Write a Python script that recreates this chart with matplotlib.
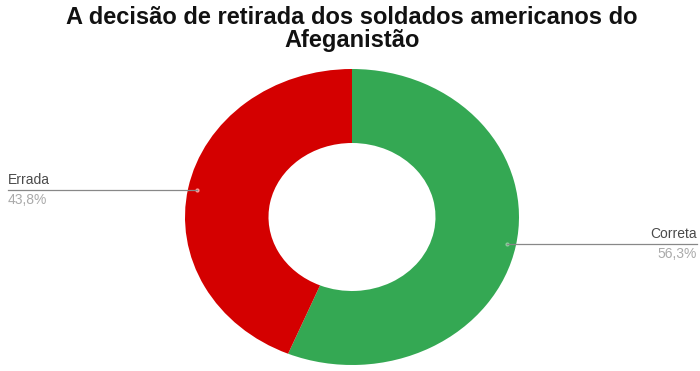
from decimal import Decimal, ROUND_HALF_UP
import numpy as np
import matplotlib
matplotlib.use('Agg')
import matplotlib.pyplot as plt

# data
labels = ['Correta', 'Errada']
values = [9, 7]
colors = ['#34a853', '#d40000']
title_lines = ['A decisão de retirada dos soldados americanos do', 'Afeganistão']

plt.rcParams['font.family'] = ['Liberation Sans', 'DejaVu Sans']

W, H = 700, 371
fig = plt.figure(figsize=(W / 100, H / 100), dpi=100)

# pie centre / radii in pixels (chart is slightly squashed vertically)
cx, cy, rx, ry = 352, 217, 167, 148
ax = fig.add_axes([(cx - rx) / W, (H - cy - ry) / H, 2 * rx / W, 2 * ry / H])
wedges, _ = ax.pie(values, colors=colors, startangle=90, counterclock=False,
                   radius=1, wedgeprops=dict(width=0.5, linewidth=0))
ax.set_xlim(-1, 1)
ax.set_ylim(-1, 1)
ax.set_aspect('auto')
ax.axis('off')

# title, two lines, baselines at y=24 and y=47 px
for line, base in zip(title_lines, [24, 47]):
    fig.text(0.503, (H - base) / H, line, ha='center', va='baseline',
             fontsize=17, fontweight='bold', color='#111111')

total = sum(values)
for w, lab, v in zip(wedges, labels, values):
    p = Decimal(v * 100) / Decimal(total)
    p_txt = str(p.quantize(Decimal('0.1'), rounding=ROUND_HALF_UP)).replace('.', ',') + '%'
    ang = np.deg2rad((w.theta1 + w.theta2) / 2)
    ax_x = 0.947 * np.cos(ang)
    ax_y = 0.947 * np.sin(ang)
    px, py = ax.transData.transform((ax_x, ax_y))
    if ax_x < 0:
        x_end, ha = 8, 'left'
    else:
        x_end, ha = 697, 'right'
    fig.add_artist(plt.Line2D([px, x_end], [py, py], transform=None,
                              color='#888888', linewidth=0.9))
    ax.plot(ax_x, ax_y, 'o', ms=2, color='#ff9999' if ax_x < 0 else '#88cc99', clip_on=False)
    fig.text(x_end / W, (py + 3) / H, lab, ha=ha, va='bottom', fontsize=10, color='#4a4a4a')
    fig.text(x_end / W, (py - 3) / H, p_txt, ha=ha, va='top', fontsize=10, color='#aaaaaa')

fig.savefig('out.png', dpi=100)
